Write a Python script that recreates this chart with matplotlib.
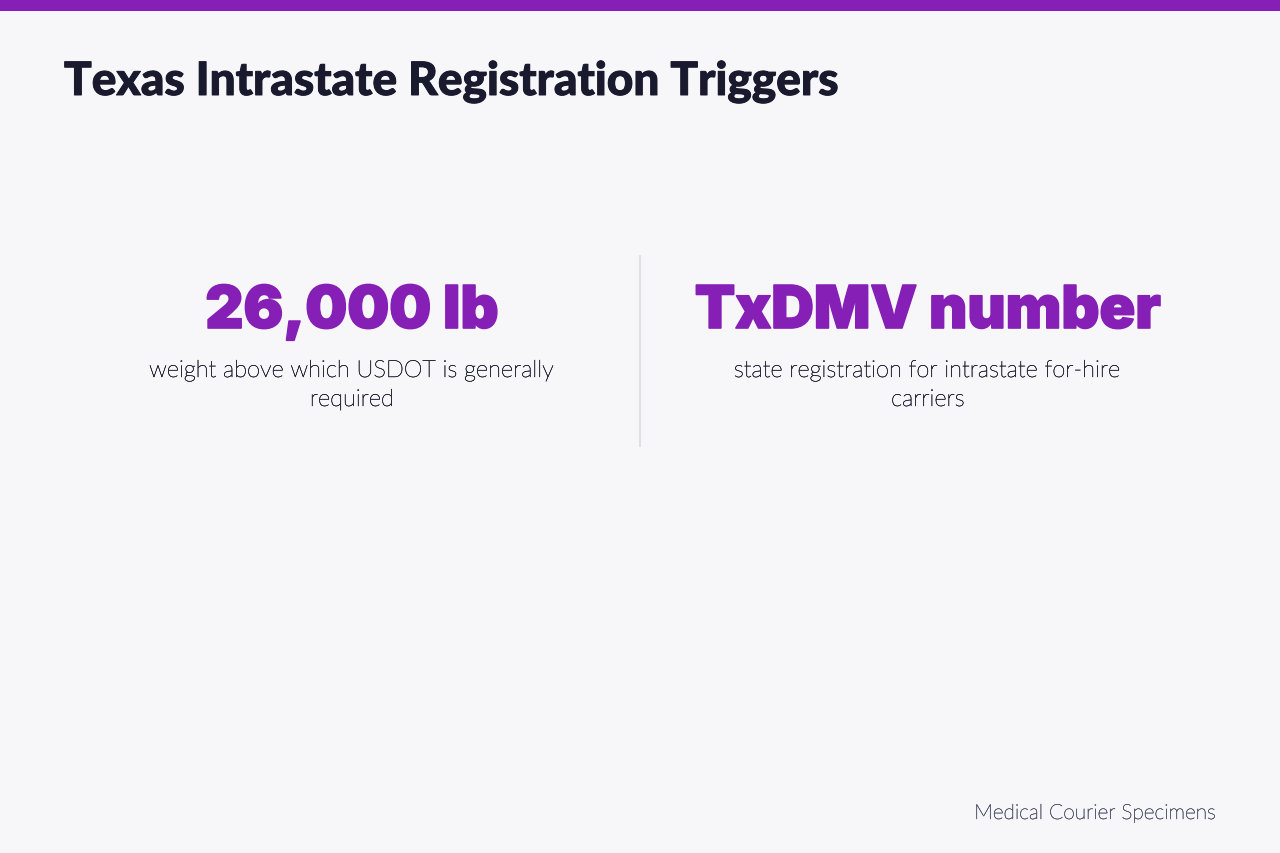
import matplotlib
matplotlib.use("Agg")
import matplotlib.pyplot as plt
import matplotlib.patheffects as pe
from matplotlib.patches import Rectangle

BG = "#f7f7fa"
PURPLE = "#861fb5"
DARK = "#1a1a2e"
CAPTION = "#2a2a3c"
MUTED = "#5a5a72"

title = "Texas Intrastate Registration Triggers"
big_values = ["26,000 lb", "TxDMV number"]
captions = [["weight above which USDOT is generally", "required"],
            ["state registration for intrastate for-hire", "carriers"]]
footer = "Medical Courier Specimens"

def thicken(width, color):
    return [pe.withStroke(linewidth=width, foreground=color)]

fig = plt.figure(figsize=(12.8, 8.54), dpi=100, facecolor=BG)
ax = fig.add_axes([0, 0, 1, 1])
ax.set_xlim(0, 1280)
ax.set_ylim(854, 0)
ax.axis("off")

# top band and divider
ax.add_patch(Rectangle((0, 0), 1280, 11.5, color=PURPLE, lw=0))
ax.plot([640, 640], [256, 448], color="#dfdfe5", lw=1.5, solid_capstyle="butt")

ax.text(64, 96, title, fontsize=33.1, fontweight="black", family="Lato", color=DARK, va="baseline",
        path_effects=thicken(0.7, DARK))

centers = [352, 928]
for cx, val, cap in zip(centers, big_values, captions):
    ax.text(cx, 329, val, fontsize=42.5, fontweight="black", family="Inter", color=PURPLE,
            ha="center", va="baseline", path_effects=thicken(1.2, PURPLE))
    # caption lines placed one by one so the spacing is exact
    for y, line in zip([378, 407], cap):
        ax.text(cx, y, line, fontsize=17, fontweight="light", family="Lato", color=CAPTION,
                ha="center", va="baseline", path_effects=thicken(0.35, CAPTION))

ax.text(1215.5, 820, footer, fontsize=15, fontweight="light", family="Lato", color=MUTED,
        ha="right", va="baseline", path_effects=thicken(0.35, MUTED))

fig.savefig("out.png", dpi=100, facecolor=BG)
